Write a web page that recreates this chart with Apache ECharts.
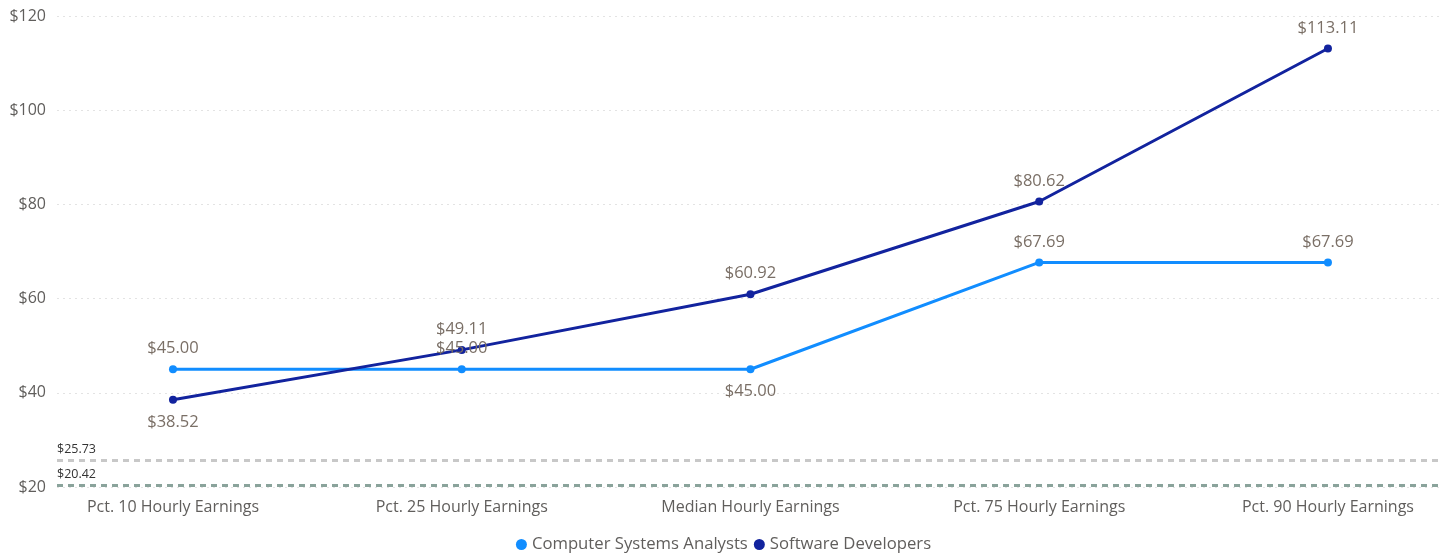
<!DOCTYPE html>
<html>
<head>
<meta charset="utf-8">
<script src="https://cdn.jsdelivr.net/npm/echarts@6/dist/echarts.min.js"></script>
<style>
  html, body { margin: 0; padding: 0; background: #fff; }
  #chart { width: 1447px; height: 554px; }
</style>
</head>
<body>
<div id="chart"></div>
<script>
var categories = ['Pct. 10 Hourly Earnings', 'Pct. 25 Hourly Earnings', 'Median Hourly Earnings', 'Pct. 75 Hourly Earnings', 'Pct. 90 Hourly Earnings'];
var analysts = [45.00, 45.00, 45.00, 67.69, 67.69];
var developers = [38.52, 49.11, 60.92, 80.62, 113.11];
// label below the point for these indices
var analystsBelow = [2];
var developersBelow = [0];
var refLines = [25.73, 20.42];
var refColors = ['#c8c8c8', '#8aa39b'];

var font = 'Open Sans, Noto Sans, sans-serif';

function toPoints(vals, below) {
  return vals.map(function (v, i) {
    var under = below.indexOf(i) >= 0;
    return {
      value: [i, v],
      label: { position: under ? 'bottom' : 'top', distance: under ? 10 : 8 }
    };
  });
}

var chart = echarts.init(document.getElementById('chart'));

var option = {
  animation: false,
  grid: { left: 57, right: 5, top: 16, bottom: 67, containLabel: false },
  legend: {
    bottom: -4,
    left: 'center',
    icon: 'circle',
    itemWidth: 11,
    itemHeight: 11,
    itemGap: 6,
    textStyle: { color: '#605e5c', fontSize: 16.7, fontFamily: font },
    data: ['Computer Systems Analysts', 'Software Developers']
  },
  xAxis: {
    type: 'value',
    min: -0.4017,
    max: 4.395,
    axisLine: { show: false },
    axisTick: { show: false },
    splitLine: { show: false },
    axisLabel: {
      customValues: [0, 1, 2, 3, 4],
      color: '#605e5c',
      fontSize: 16,
      fontFamily: font,
      margin: 12,
      formatter: function (v) { return categories[Math.round(v)] || ''; }
    }
  },
  yAxis: {
    type: 'value',
    min: 20,
    max: 120,
    interval: 20,
    axisLine: { show: false },
    axisTick: { show: false },
    axisLabel: {
      color: '#605e5c',
      fontSize: 16,
      fontFamily: font,
      margin: 11,
      formatter: function (v) { return '$' + v; }
    },
    splitLine: { lineStyle: { color: '#e3e3e3', type: [2, 4], width: 1 } }
  },
  series: [
    {
      name: 'Computer Systems Analysts',
      type: 'line',
      data: toPoints(analysts, analystsBelow),
      color: '#118dff',
      lineStyle: { width: 3 },
      symbol: 'circle',
      symbolSize: 8,
      label: {
        show: true,
        color: '#7a6f66',
        fontSize: 16.5,
        fontFamily: font,
        formatter: function (p) { return '$' + p.value[1].toFixed(2); }
      },
      markLine: {
        silent: true,
        symbol: 'none',
        data: refLines.map(function (v, i) {
          return {
            yAxis: v,
            lineStyle: { color: refColors[i], type: [6, 5], width: 3 },
            label: {
              show: true,
              position: 'insideStartTop',
              distance: [0, 4],
              color: '#333',
              fontSize: 12.5,
              fontFamily: font,
              formatter: '$' + v.toFixed(2)
            }
          };
        })
      }
    },
    {
      name: 'Software Developers',
      type: 'line',
      data: toPoints(developers, developersBelow),
      color: '#12239e',
      lineStyle: { width: 3 },
      symbol: 'circle',
      symbolSize: 8,
      label: {
        show: true,
        color: '#7a6f66',
        fontSize: 16.5,
        fontFamily: font,
        formatter: function (p) { return '$' + p.value[1].toFixed(2); }
      }
    }
  ]
};

chart.setOption(option);
</script>
</body>
</html>
